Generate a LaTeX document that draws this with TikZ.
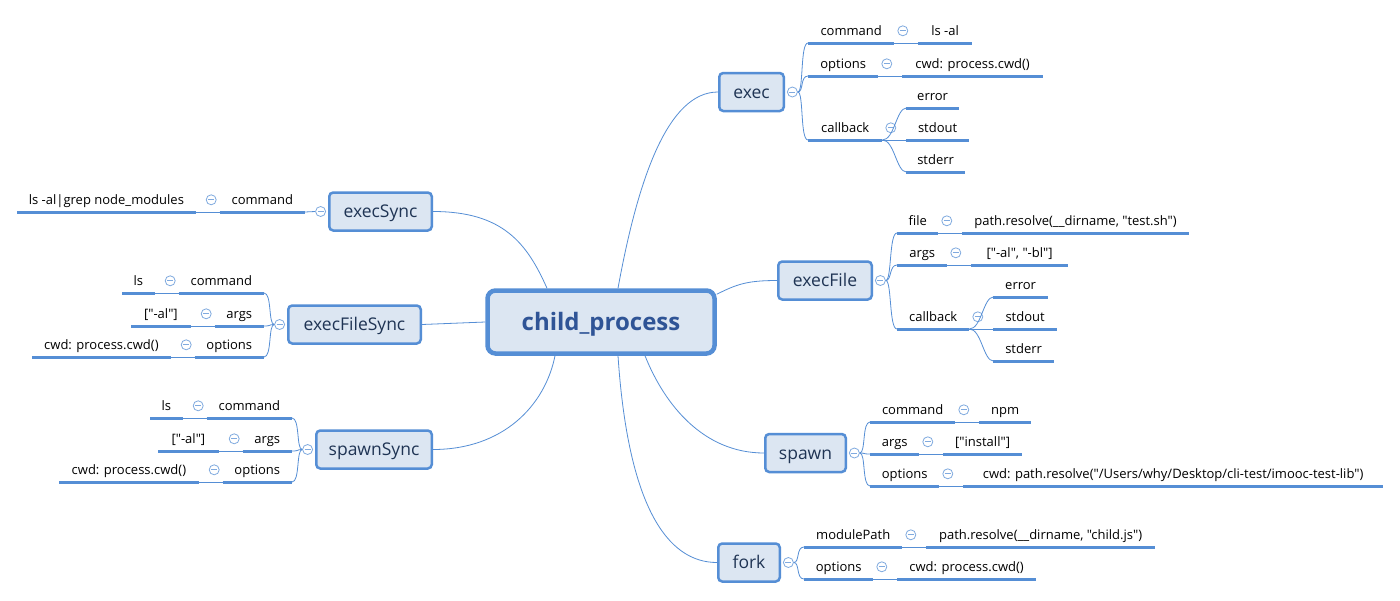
\documentclass[tikz,border=0pt]{standalone}
\usepackage{fontspec}
\usepackage{tikz}
\usetikzlibrary{positioning}
\newfontfamily\mapfont{Open Sans}
\definecolor{mapblue}{RGB}{85, 142, 213}
\definecolor{mapfill}{RGB}{220, 230, 242}
\definecolor{roottext}{RGB}{47, 84, 150}
\definecolor{branchtext}{RGB}{31, 52, 84}
\newcommand{\rootfont}{\mapfont\fontsize{24}{27}\selectfont\bfseries}
\newcommand{\branchfont}{\mapfont\fontsize{17.5}{20}\selectfont}
\newcommand{\leaffont}{\mapfont\fontsize{13}{15}\selectfont}

\begin{document}
\begin{tikzpicture}[x=1pt, y=-1pt,
    root/.style={rectangle, rounded corners=8pt, draw=mapblue, line width=4.5pt, fill=mapfill, minimum width=227pt, minimum height=63pt, text height=21pt, text depth=5pt, font=\rootfont, text=roottext},
    branch/.style={rectangle, rounded corners=4pt, draw=mapblue, line width=2.5pt, fill=mapfill, minimum height=38pt, text height=16pt, text depth=3.5pt, inner xsep=0pt, font=\branchfont, text=branchtext},
    leaf/.style={rectangle, minimum width=#1, inner xsep=0pt, inner ysep=3pt, text height=10pt, text depth=4pt, anchor=south, font=\leaffont,
        append after command={\pgfextra{\draw[uline] (\tikzlastnode.south west) -- (\tikzlastnode.south east);}}},
    fold/.style={circle, draw=mapblue!75, fill=white, line width=0.8pt, minimum size=10pt, inner sep=0pt,
        path picture={\draw[mapblue!75, line width=0.8pt] ([xshift=-3pt]path picture bounding box.center) -- ([xshift=3pt]path picture bounding box.center);}},
    leaffold/.style={fold, yshift=2pt},
    link/.style={draw=mapblue, line width=0.8pt},
    uline/.style={draw=mapblue, line width=3pt}
]
    \path[use as bounding box, fill=white] (0,0) rectangle (1400,600);

    % Root
    \node[root] (cp) at (601,322) {child\_process};

    % Branches right
    \node[branch, minimum width=64.5pt] (exec) at (751.5,92) {exec};
    \node[branch, minimum width=93.5pt] (execFile) at (825,280.5) {execFile};
    \node[branch, minimum width=80.5pt] (spawn) at (805.5,453) {spawn};
    \node[branch, minimum width=61.5pt] (fork) at (749,562.5) {fork};
    % Branches left
    \node[branch, minimum width=102.5pt] (execSync) at (380.5,211.5) {execSync};
    \node[branch, minimum width=132.5pt] (execFileSync) at (354.5,324.5) {execFileSync};
    \node[branch, minimum width=115.5pt] (spawnSync) at (374,449.5) {spawnSync};

    \node[fold, right=2pt of exec] (fExec) {};
    \node[fold, right=2pt of execFile] (fExecFile) {};
    \node[fold, right=2pt of spawn] (fSpawn) {};
    \node[fold, right=2pt of fork] (fFork) {};
    \node[fold, left=2pt of execSync] (fExecSync) {};
    \node[fold, left=2pt of execFileSync] (fExecFileSync) {};
    \node[fold, left=2pt of spawnSync] (fSpawnSync) {};

    % Root links
    \draw[link] ([xshift=17pt]cp.north) .. controls +(20,-110) and +(-50,0) .. (exec.west);
    \draw[link] ([yshift=-6pt]cp.north east) .. controls +(20,-10) and +(-30,0) .. (execFile.west);
    \draw[link] ([xshift=44pt]cp.south) .. controls +(20,50) and +(-60,0) .. (spawn.west);
    \draw[link] ([xshift=17pt]cp.south) .. controls +(10,150) and +(-50,0) .. (fork.west);
    \draw[link] ([xshift=-54pt]cp.north) .. controls +(-20,-45) and +(70,0) .. (execSync.east);
    \draw[link] (cp.west) -- (execFileSync.east);
    \draw[link] ([xshift=-46pt]cp.south) .. controls +(-10,50) and +(70,0) .. (spawnSync.east);

    % exec
    \node[leaf=86pt, anchor=south west] (eCmd) at (808,43) {command};
    \node[leaffold, right=3pt of eCmd] (feCmd) {};
    \node[leaf=53pt, right=24pt of eCmd] (eLs) {ls -al};
    \node[leaf=70pt, anchor=south west] (eOpt) at (808,76) {options};
    \node[leaffold, right=3pt of eOpt] (feOpt) {};
    \node[leaf=140pt, right=24pt of eOpt] (eCwd) {cwd: process.cwd()};
    \node[leaf=74pt, anchor=south west] (eCb) at (808,140) {callback};
    \node[leaffold, right=3pt of eCb] (feCb) {};
    \node[leaf=62pt, right=24pt of eCb] (eOut) {stdout};
    \node[leaf=52pt, anchor=south west] (eErr) at ([yshift=32pt]eOut.south west) {error};
    \node[leaf=58pt, anchor=south west] (eSerr) at ([yshift=-32pt]eOut.south west) {stderr};
    \draw[link] (fExec.east) .. controls +(6,0) and +(-8,0) .. (eCmd.south west);
    \draw[link] (fExec.east) .. controls +(6,0) and +(-8,0) .. (eOpt.south west);
    \draw[link] (fExec.east) .. controls +(6,0) and +(-8,0) .. (eCb.south west);
    \draw[link] (eCmd.south east) -- (eLs.south west);
    \draw[link] (eOpt.south east) -- (eCwd.south west);
    \draw[link] (eCb.south east) .. controls +(12,0) and +(-10,0) .. (eErr.south west);
    \draw[link] (eCb.south east) -- (eOut.south west);
    \draw[link] (eCb.south east) .. controls +(12,0) and +(-10,0) .. (eSerr.south west);

    % execFile
    \node[leaf=41pt, anchor=south west] (fFile) at (897,233) {file};
    \node[leaffold, right=3pt of fFile] (ffFile) {};
    \node[leaf=226pt, right=24pt of fFile] (fPath) {path.resolve(\_\_dirname, "test.sh")};
    \node[leaf=50pt, anchor=south west] (fArgs) at (897,265) {args};
    \node[leaffold, right=3pt of fArgs] (ffArgs) {};
    \node[leaf=96pt, right=24pt of fArgs] (fArgv) {["-al", "-bl"]};
    \node[leaf=72pt, anchor=south west] (fCb) at (897,329) {callback};
    \node[leaffold, right=3pt of fCb] (ffCb) {};
    \node[leaf=63pt, right=24pt of fCb] (fOut) {stdout};
    \node[leaf=54pt, anchor=south west] (fErr) at ([yshift=32pt]fOut.south west) {error};
    \node[leaf=60pt, anchor=south west] (fSerr) at ([yshift=-32pt]fOut.south west) {stderr};
    \draw[link] (fExecFile.east) .. controls +(6,0) and +(-8,0) .. (fFile.south west);
    \draw[link] (fExecFile.east) .. controls +(6,0) and +(-8,0) .. (fArgs.south west);
    \draw[link] (fExecFile.east) .. controls +(6,0) and +(-8,0) .. (fCb.south west);
    \draw[link] (fFile.south east) -- (fPath.south west);
    \draw[link] (fArgs.south east) -- (fArgv.south west);
    \draw[link] (fCb.south east) .. controls +(12,0) and +(-10,0) .. (fErr.south west);
    \draw[link] (fCb.south east) -- (fOut.south west);
    \draw[link] (fCb.south east) .. controls +(12,0) and +(-10,0) .. (fSerr.south west);

    % spawn
    \node[leaf=85pt, anchor=south west] (sCmd) at (870,422) {command};
    \node[leaffold, right=3pt of sCmd] (fsCmd) {};
    \node[leaf=51pt, right=24pt of sCmd] (sNpm) {npm};
    \node[leaf=49pt, anchor=south west] (sArgs) at (870,454) {args};
    \node[leaffold, right=3pt of sArgs] (fsArgs) {};
    \node[leaf=78pt, right=24pt of sArgs] (sArgv) {["install"]};
    \node[leaf=69pt, anchor=south west] (sOpt) at (870,486) {options};
    \node[leaffold, right=3pt of sOpt] (fsOpt) {};
    \node[leaf=419pt, right=24pt of sOpt] (sCwd) {cwd: path.resolve("/Users/why/Desktop/cli-test/imooc-test-lib")};
    \draw[link] (fSpawn.east) .. controls +(6,0) and +(-8,0) .. (sCmd.south west);
    \draw[link] (fSpawn.east) .. controls +(6,0) and +(-8,0) .. (sArgs.south west);
    \draw[link] (fSpawn.east) .. controls +(6,0) and +(-8,0) .. (sOpt.south west);
    \draw[link] (sCmd.south east) -- (sNpm.south west);
    \draw[link] (sArgs.south east) -- (sArgv.south west);
    \draw[link] (sOpt.south east) -- (sCwd.south west);

    % fork
    \node[leaf=98pt, anchor=south west] (kMod) at (804,547) {modulePath};
    \node[leaffold, right=3pt of kMod] (fkMod) {};
    \node[leaf=228pt, right=24pt of kMod] (kPath) {path.resolve(\_\_dirname, "child.js")};
    \node[leaf=69pt, anchor=south west] (kOpt) at (804,579) {options};
    \node[leaffold, right=3pt of kOpt] (fkOpt) {};
    \node[leaf=138pt, right=24pt of kOpt] (kCwd) {cwd: process.cwd()};
    \draw[link] (fFork.east) .. controls +(6,0) and +(-8,0) .. (kMod.south west);
    \draw[link] (fFork.east) .. controls +(6,0) and +(-8,0) .. (kOpt.south west);
    \draw[link] (kMod.south east) -- (kPath.south west);
    \draw[link] (kOpt.south east) -- (kCwd.south west);

    % execSync
    \node[leaf=85pt, anchor=south east] (esCmd) at (305,212) {command};
    \node[leaffold, left=3pt of esCmd] (fesCmd) {};
    \node[leaf=178pt, left=24pt of esCmd] (esVal) {ls -al|grep node\_modules};
    \draw[link] (fExecSync.west) -- (esCmd.south east);
    \draw[link] (esCmd.south west) -- (esVal.south east);

    % execFileSync
    \node[leaf=85pt, anchor=south east] (efCmd) at (264,293) {command};
    \node[leaffold, left=3pt of efCmd] (fefCmd) {};
    \node[leaf=32pt, left=24pt of efCmd] (efLs) {ls};
    \node[leaf=49pt, anchor=south east] (efArgs) at (264,326) {args};
    \node[leaffold, left=3pt of efArgs] (fefArgs) {};
    \node[leaf=59pt, left=24pt of efArgs] (efArgv) {["-al"]};
    \node[leaf=69pt, anchor=south east] (efOpt) at (264,357) {options};
    \node[leaffold, left=3pt of efOpt] (fefOpt) {};
    \node[leaf=138pt, left=24pt of efOpt] (efCwd) {cwd: process.cwd()};
    \draw[link] (fExecFileSync.west) .. controls +(-6,0) and +(8,0) .. (efCmd.south east);
    \draw[link] (fExecFileSync.west) .. controls +(-6,0) and +(8,0) .. (efArgs.south east);
    \draw[link] (fExecFileSync.west) .. controls +(-6,0) and +(8,0) .. (efOpt.south east);
    \draw[link] (efCmd.south west) -- (efLs.south east);
    \draw[link] (efArgs.south west) -- (efArgv.south east);
    \draw[link] (efOpt.south west) -- (efCwd.south east);

    % spawnSync
    \node[leaf=85pt, anchor=south east] (ssCmd) at (292,418) {command};
    \node[leaffold, left=3pt of ssCmd] (fssCmd) {};
    \node[leaf=32pt, left=24pt of ssCmd] (ssLs) {ls};
    \node[leaf=49pt, anchor=south east] (ssArgs) at (292,451) {args};
    \node[leaffold, left=3pt of ssArgs] (fssArgs) {};
    \node[leaf=60pt, left=24pt of ssArgs] (ssArgv) {["-al"]};
    \node[leaf=69pt, anchor=south east] (ssOpt) at (292,482) {options};
    \node[leaffold, left=3pt of ssOpt] (fssOpt) {};
    \node[leaf=139pt, left=24pt of ssOpt] (ssCwd) {cwd: process.cwd()};
    \draw[link] (fSpawnSync.west) .. controls +(-6,0) and +(8,0) .. (ssCmd.south east);
    \draw[link] (fSpawnSync.west) .. controls +(-6,0) and +(8,0) .. (ssArgs.south east);
    \draw[link] (fSpawnSync.west) .. controls +(-6,0) and +(8,0) .. (ssOpt.south east);
    \draw[link] (ssCmd.south west) -- (ssLs.south east);
    \draw[link] (ssArgs.south west) -- (ssArgv.south east);
    \draw[link] (ssOpt.south west) -- (ssCwd.south east);

\end{tikzpicture}
\end{document}
